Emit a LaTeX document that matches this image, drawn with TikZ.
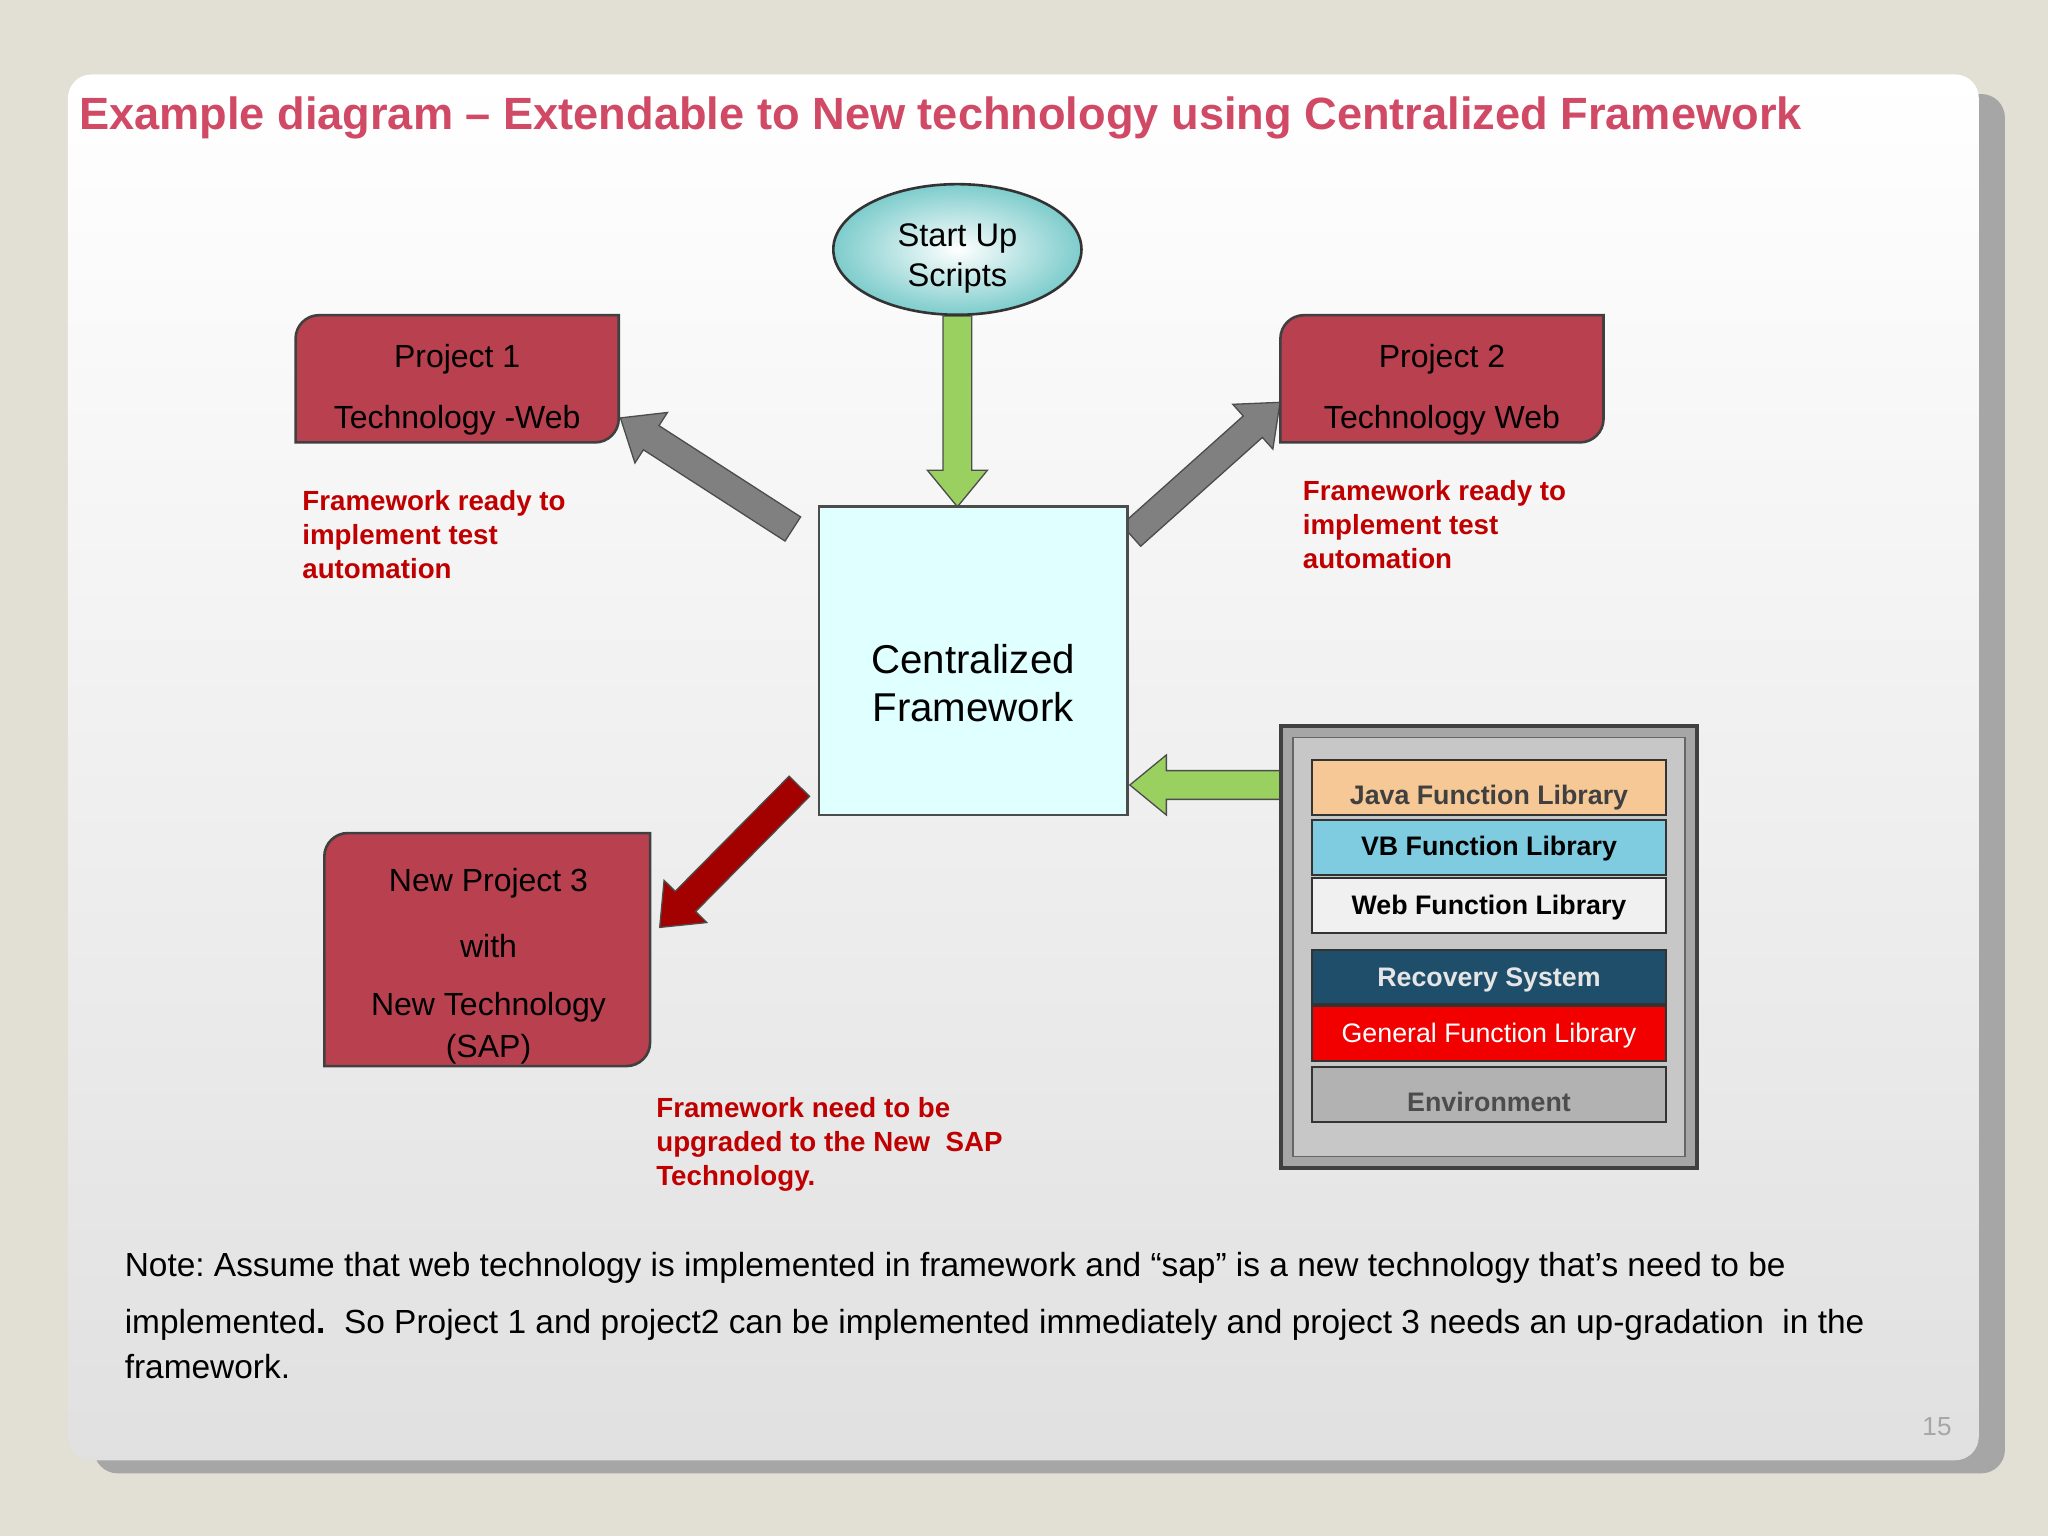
\documentclass[tikz,border=0pt]{standalone}
\usepackage{fontspec}
\setmainfont{Liberation Sans}
\usetikzlibrary{shapes.geometric,calc}
\frenchspacing
\definecolor{bg}{HTML}{E2DFD4}
\definecolor{ttl}{HTML}{D04A66}
\definecolor{proj}{HTML}{B8404F}
\definecolor{cy}{HTML}{E0FFFF}
\definecolor{rd}{HTML}{C00000}
\definecolor{grn}{HTML}{99D060}
\tikzset{
 projbox/.style={minimum width=247pt,minimum height=97pt,inner sep=0,font=\fontsize{24}{30}\selectfont,align=center},
 ptxt/.style={font=\fontsize{24.5}{30}\selectfont},
 redtxt/.style={anchor=north west,align=left,text=rd,font=\bfseries\fontsize{21.2}{26}\selectfont},
 lib/.style={draw=black!80,line width=1.5pt,minimum width=271pt,minimum height=42pt,inner sep=0},
 libtxt/.style={font=\bfseries\fontsize{20.5}{24}\selectfont},
 fatline/.style={draw=black!70,line width=1pt,line join=miter},
}
\newcommand{\snipbox}[1]{\draw[fill=proj,draw=black!75,line width=2pt] (#1.south west) [rounded corners=18pt]-- (#1.north west) [sharp corners]-- (#1.north east) [rounded corners=18pt]-- (#1.south east) [sharp corners]-- cycle;}
\newcommand{\fatarrow}[4]{%
 \pgfmathsetmacro{\hb}{#4-28}%
 \path[fatline,fill=#1] ($(#2)+(#3+90:11)$) -- ($(#2)+(#3:\hb)+(#3+90:11)$) -- ($(#2)+(#3:\hb)+(#3+90:23)$) -- ($(#2)+(#3:#4)$) -- ($(#2)+(#3:\hb)+(#3-90:23)$) -- ($(#2)+(#3:\hb)+(#3-90:11)$) -- ($(#2)+(#3-90:11)$) -- cycle;}
\begin{document}
\begin{tikzpicture}[x=1pt,y=-1pt]
\fill[bg] (0,0) rectangle (1568,1176);
\fill[black!35,rounded corners=18] (72,72) rectangle (1535,1128);
\shade[top color=white,bottom color=black!12,rounded corners=18] (52,57) rectangle (1515,1118);
\node[anchor=west,text=ttl,font=\bfseries\fontsize{34.6}{40}\selectfont] (title) at (57,90) {Example diagram -- Extendable to New technology using Centralized Framework};
\coordinate (s1) at (733,242);
\coordinate (s2) at (607,405);
\coordinate (s3) at (866,410);
\coordinate (s4) at (612,602);
\coordinate (s5) at (980,601);
\fatarrow{grn}{s1}{90}{146}
\fatarrow{black!50}{s2}{212.8}{157}
\fatarrow{black!50}{s3}{318.2}{153}
\fatarrow{rd!85!black}{s4}{134.7}{152}
\fatarrow{grn}{s5}{180}{115}
\node[ellipse,draw=black!80,line width=2pt,inner color=white,outer color=cy!70!cyan!80!black,minimum width=190pt,minimum height=100pt] (su) at (733,191) {};
\node[align=center,font=\fontsize{25}{31}\selectfont] (sut) at (733,198) {Start Up\\Scripts};
\node[draw=black!70,line width=2pt,fill=cy,minimum width=236pt,minimum height=236pt] (cf) at (745,506) {};
\node[align=center,font=\fontsize{30.8}{37}\selectfont] (cft) at (745,523) {Centralized\\Framework};
\node[projbox] (p1) at (350,290) {};
\snipbox{p1}
\node[ptxt] (p1a) at (350,275) {Project 1};
\node[ptxt] (p1b) at (350,322) {Technology -Web};
\node[projbox] (p2) at (1104,290) {};
\snipbox{p2}
\node[ptxt] (p2a) at (1104,275) {Project 2};
\node[ptxt] (p2b) at (1104,322) {Technology Web};
\node[projbox,minimum width=249pt,minimum height=178pt] (p3) at (373,727) {};
\snipbox{p3}
\node[ptxt] (p3a) at (374,676) {New Project 3};
\node[ptxt] (p3b) at (374,724) {with};
\node[ptxt] (p3c) at (374,771) {New Technology};
\node[ptxt] (p3d) at (374,803) {(SAP)};
\node[redtxt] (r1) at (228,372) {Framework ready to\\implement test\\automation};
\node[redtxt] (r2) at (994,364) {Framework ready to\\implement test\\automation};
\node[redtxt] (r3) at (499,837) {Framework need to be\\upgraded to the New\ \ SAP\\Technology.};
\node[draw=black!75,line width=3pt,fill=black!35,minimum width=318pt,minimum height=339pt] (lp) at (1140,725) {};
\node[draw=black!60,line width=1pt,fill=black!22,minimum width=300pt,minimum height=321pt] (lpi) at (1140,725) {};
\node[lib,fill={rgb,255:red,245;green,200;blue,150}] (l1) at (1140,603) {};
\node[libtxt,text=black!75] (l1t) at (1140,611) {Java Function Library};
\node[lib,fill={rgb,255:red,127;green,204;blue,224}] (l2) at (1140,649) {};
\node[libtxt] (l2t) at (1140,650) {VB Function Library};
\node[lib,fill=black!6] (l3) at (1140,693) {};
\node[libtxt] (l3t) at (1140,695) {Web Function Library};
\node[lib,fill={rgb,255:red,31;green,78;blue,107}] (l4) at (1140,748) {};
\node[libtxt,text=black!10] (l4t) at (1140,750) {Recovery System};
\node[lib,fill=red!95!black] (l5) at (1140,791) {};
\node[text=white,font=\fontsize{20.5}{24}\selectfont] (l5t) at (1140,793) {General Function Library};
\node[lib,fill=black!30] (l6) at (1140,838) {};
\node[libtxt,text=black!70] (l6t) at (1140,844) {Environment};
\node[anchor=north west,align=left,font=\fontsize{25.6}{34}\selectfont] (note) at (92,955) {Note: Assume that web technology is implemented in framework and “sap” is a new technology that’s need to be\\[10pt]implemented{\bfseries .}\ \ So Project 1 and project2 can be implemented immediately and project 3 needs an up-gradation\ \ in the\\framework.};
\node[text=black!35,font=\fontsize{20}{24}\selectfont] (pg) at (1483,1092) {15};
\end{tikzpicture}
\end{document}
